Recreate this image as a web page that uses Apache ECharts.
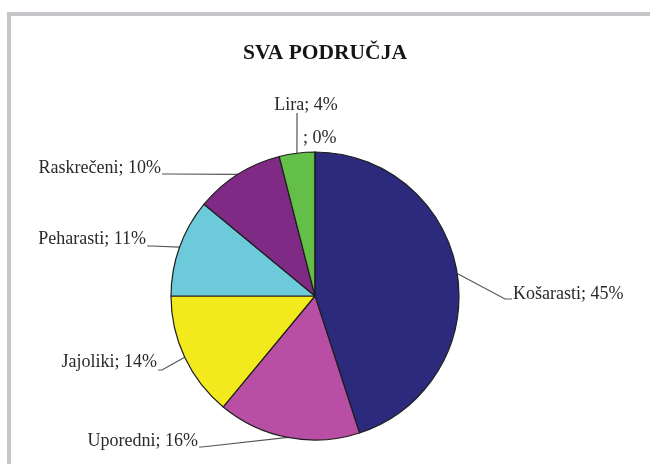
<!DOCTYPE html>
<html>
<head>
<meta charset="utf-8">
<script src="https://cdn.jsdelivr.net/npm/echarts@6/dist/echarts.min.js"></script>
<style>
  html, body { margin: 0; padding: 0; background: #fff; }
  #frame { position: absolute; left: 7px; top: 12px; width: 643px; height: 452px;
           border-top: 4px solid #c6c6ca; border-left: 4px solid #c6c6ca; box-sizing: border-box; }
  #pie-chart { position: absolute; left: 0; top: 0; width: 650px; height: 464px; }
</style>
</head>
<body>
<div id="frame"></div>
<div id="pie-chart"></div>
<script>
const categories = ['Košarasti', 'Uporedni', 'Jajoliki', 'Peharasti', 'Raskrečeni', 'Lira', ''];
const shares = [45, 16, 14, 11, 10, 4, 0];
const colors = ['#2b2a7c', '#b94fa5', '#f2ea1c', '#6dcadb', '#7f2a84', '#64bf48', '#999999'];

// where each label sits (Excel-style manual placement) and where its leader line ends
const labelSpots = [
  { x: 513, y: 294, align: 'left',   line: [[505, 299], [512, 299]] },
  { x: 198, y: 441, align: 'right',  line: [[202, 447], [199, 447]] },
  { x: 157, y: 362, align: 'right',  line: [[162, 370], [158, 370]] },
  { x: 146, y: 239, align: 'right',  line: [[152, 246], [147, 246]] },
  { x: 161, y: 168, align: 'right',  line: [[170, 174], [162, 174]] },
  { x: 306, y: 105, align: 'center', line: [[297, 114], [297, 113]] },
  { x: 303, y: 138, align: 'left',   line: null }
];

const chart = echarts.init(document.getElementById('pie-chart'));

const option = {
  animation: false,
  title: {
    text: 'SVA PODRUČJA',
    left: 320,
    textAlign: 'center',
    top: 37,
    textStyle: { fontFamily: 'Liberation Serif', fontWeight: 'bold', fontSize: 21.5, color: '#151515' }
  },
  series: [
    {
      type: 'pie',
      center: [315, 296],
      radius: 144,
      startAngle: 90,
      clockwise: true,
      avoidLabelOverlap: false,
      minShowLabelAngle: 0,
      data: categories.map((name, i) => ({
        name: name,
        value: shares[i],
        itemStyle: { color: colors[i] }
      })),
      itemStyle: { borderColor: '#1e1e1e', borderWidth: 1.2 },
      label: {
        formatter: '{b}; {d}%',
        fontFamily: 'Liberation Serif',
        fontSize: 18,
        color: '#2a2a2a'
      },
      labelLine: {
        show: true,
        lineStyle: { color: '#555', width: 1.2 }
      },
      labelLayout: function (params) {
        const spot = labelSpots[params.dataIndex];
        const start = params.labelLinePoints ? params.labelLinePoints[0] : spot.line ? spot.line[0] : [spot.x, spot.y];
        const pts = spot.line ? [start, spot.line[0], spot.line[1]] : [start, start, start];
        return {
          x: spot.x,
          y: spot.y,
          align: spot.align,
          verticalAlign: 'middle',
          labelLinePoints: pts
        };
      },
      emphasis: { disabled: true }
    }
  ]
};

chart.setOption(option);
</script>
</body>
</html>
